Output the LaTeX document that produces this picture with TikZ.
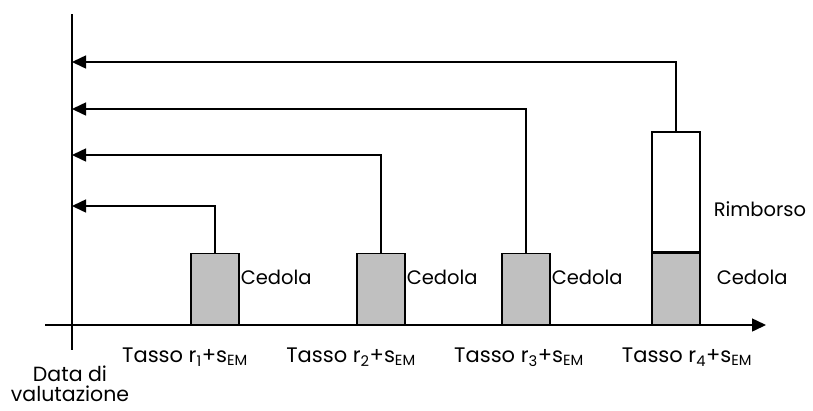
\documentclass[tikz,border=0pt]{standalone}
\usepackage{fontspec}
\setmainfont{Poppins}
\usetikzlibrary{arrows.meta}
\definecolor{cedgray}{HTML}{C0C0C0}

\begin{document}
\begin{tikzpicture}[x=1pt,y=-1pt,line width=1.5pt,
    every node/.style={font=\fontsize{19.5}{21}\selectfont},
    flow/.style={-{Triangle[length=14pt,width=13pt]}},
    cedola/.style={draw,fill=cedgray,minimum width=48pt,minimum height=71pt,inner sep=0pt},
    rimb/.style={draw,fill=white,minimum width=48pt,minimum height=120pt,inner sep=0pt},
    tag/.style={anchor=west,inner sep=0pt},
    rate/.style={anchor=center,inner sep=0pt,font=\fontsize{21}{22}\selectfont}]
    \useasboundingbox (0,0) rectangle (813,410);
    % axes
    \coordinate (ytop) at (72,14);
    \coordinate (ybot) at (72,350);
    \coordinate (xl) at (45,325);
    \coordinate (xr) at (766,325);
    \draw (ytop) -- (ybot);
    \draw[flow] (xl) -- (xr);
    % cash flows
    \node[cedola,anchor=south] (c1) at (215,325) {};
    \node[cedola,anchor=south] (c2) at (381,325) {};
    \node[cedola,anchor=south] (c3) at (526,325) {};
    \node[cedola,anchor=south] (c4) at (676,325) {};
    \node[rimb,anchor=south] (r4) at (c4.north) {};
    \node[tag] (l1) at (240,277) {Cedola};
    \node[tag] (l2) at (406,277) {Cedola};
    \node[tag] (l3) at (551,277) {Cedola};
    \node[tag] (l4) at (716,277) {Cedola};
    \node[tag] (lr) at (713,209) {Rimborso};
    % discounting back
    \coordinate (t1) at (72,206);
    \coordinate (t2) at (72,155);
    \coordinate (t3) at (72,109);
    \coordinate (t4) at (72,62);
    \draw[flow] (c1.north) |- (t1);
    \draw[flow] (c2.north) |- (t2);
    \draw[flow] (c3.north) |- (t3);
    \draw[flow] (r4.north) |- (t4);
    % rates
    \node[rate] (k1) at (185,357) {Tasso r\textsubscript{1}+s\textsubscript{EM}};
    \node[rate] (k2) at (351,357) {Tasso r\textsubscript{2}+s\textsubscript{EM}};
    \node[rate] (k3) at (519,357) {Tasso r\textsubscript{3}+s\textsubscript{EM}};
    \node[rate] (k4) at (687,357) {Tasso r\textsubscript{4}+s\textsubscript{EM}};
    \node[align=center,inner sep=0pt,font=\fontsize{20.5}{20}\selectfont] (dv) at (70,384) {Data di\\valutazione};
\end{tikzpicture}
\end{document}
